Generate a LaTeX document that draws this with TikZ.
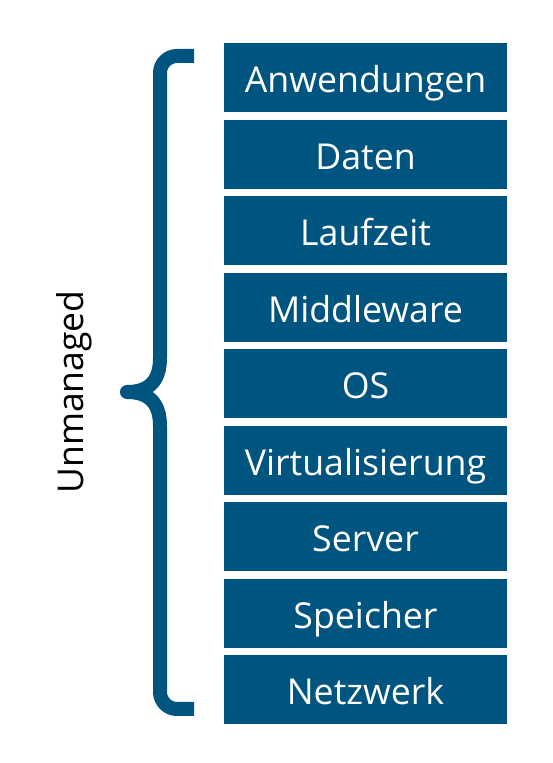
\documentclass[tikz,border=0pt]{standalone}
\usepackage{fontspec}
\setmainfont{Open Sans}
\definecolor{layerblue}{RGB}{0,84,128}
\begin{document}
\begin{tikzpicture}[x=1pt,y=1pt,
  layer/.style={fill=layerblue, draw=none, text=white,
    minimum width=283.4pt, minimum height=69pt, inner sep=0pt,
    text height=30pt, text depth=0pt,
    font=\fontsize{35.7pt}{40pt}\selectfont},
  bracestroke/.style={draw=layerblue, line width=14pt, line join=round, line cap=butt}]
\useasboundingbox (0,0) rectangle (553,763);
% stack of layers, top to bottom
\foreach \name/\label [count=\i from 0] in {anw/Anwendungen, dat/Daten, lauf/Laufzeit,
    mid/Middleware, os/OS, virt/Virtualisierung, srv/Server, spe/Speicher, netz/Netzwerk}
  \node[layer] (\name) at (365.5, 685.2-76.5*\i) {\label};
% curly brace spanning the stack
\coordinate (btop) at (194,707);
\coordinate (bbot) at (194,54);
\draw[bracestroke] (btop) -- (177,707) arc[start angle=90, end angle=180, radius=17]
  -- (160,405) .. controls (160,383) and (150,371) .. (127,371)
  .. controls (150,371) and (160,359) .. (160,337)
  -- (160,71) arc[start angle=180, end angle=270, radius=17] -- (bbot);
% label of the brace
\node[rotate=90, anchor=base, text=black, inner sep=0pt,
  font=\fontsize{35.5pt}{40pt}\selectfont] (lbl) at (83.3,371) {Unmanaged};
\end{tikzpicture}
\end{document}
